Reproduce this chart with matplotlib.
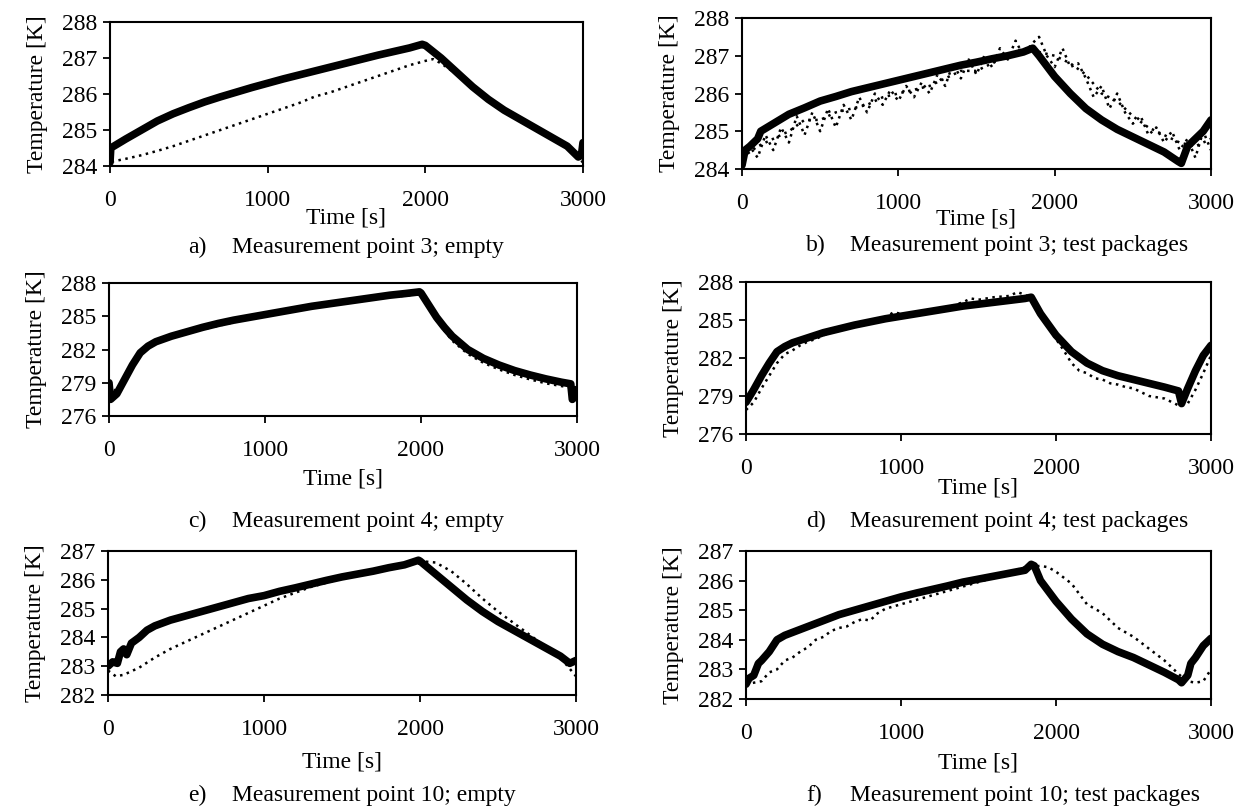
import matplotlib
matplotlib.use("Agg")
import matplotlib.pyplot as plt

plt.rcParams['font.family'] = ['Liberation Serif', 'DejaVu Serif']

W, H = 1249, 811

# ---------------- data ----------------
# Panel a: Measurement point 3; empty
a_solid_t = [0, 5, 100, 200, 300, 400, 500, 600, 700, 800, 900, 1000, 1100, 1200, 1300, 1400,
             1500, 1600, 1700, 1800, 1900, 1980, 2000, 2100, 2200, 2300, 2400, 2500, 2600, 2700,
             2800, 2900, 2970, 2990, 3000]
a_solid_y = [284.1, 284.5, 284.75, 285.0, 285.25, 285.45, 285.62, 285.78, 285.92, 286.05, 286.18,
             286.3, 286.42, 286.53, 286.64, 286.75, 286.86, 286.97, 287.08, 287.18, 287.28, 287.38,
             287.35, 287.0, 286.6, 286.2, 285.85, 285.55, 285.3, 285.05, 284.8, 284.55, 284.25,
             284.3, 284.65]
a_dot_t = [10, 100, 200, 300, 400, 500, 600, 700, 800, 900, 1000, 1100, 1200, 1300, 1400, 1500,
           1600, 1700, 1800, 1900, 2000, 2050, 2100, 2200, 2300, 2400, 2500, 2600, 2700, 2800,
           2900, 3000]
a_dot_y = [284.12, 284.2, 284.3, 284.42, 284.55, 284.7, 284.85, 285.0, 285.15, 285.3, 285.45,
           285.6, 285.75, 285.93, 286.05, 286.2, 286.35, 286.5, 286.65, 286.8, 286.92, 286.97,
           286.85, 286.55, 286.2, 285.85, 285.55, 285.3, 285.05, 284.8, 284.5, 284.1]

# Panel b: Measurement point 3; test packages
b_solid_t = [0, 20, 50, 100, 120, 200, 300, 400, 500, 600, 700, 800, 900, 1000, 1100, 1200,
             1300, 1400, 1500, 1600, 1700, 1800, 1860, 1900, 2000, 2100, 2200, 2300, 2400, 2500,
             2600, 2700, 2790, 2810, 2850, 2900, 2950, 3000]
b_solid_y = [284.1, 284.5, 284.6, 284.8, 285.0, 285.2, 285.45, 285.62, 285.8, 285.92, 286.05,
             286.15, 286.25, 286.35, 286.45, 286.55, 286.65, 286.75, 286.83, 286.92, 287.0, 287.1,
             287.2, 287.0, 286.45, 286.0, 285.6, 285.3, 285.05, 284.85, 284.65, 284.45, 284.2,
             284.15, 284.6, 284.8, 285.0, 285.3]
b_dot1_t = [0, 50, 100, 150, 200, 250, 300, 350, 400, 450, 500, 550, 600, 650, 700, 750, 800,
            850, 900, 950, 1000, 1050, 1100, 1150, 1200, 1250, 1300, 1350, 1400, 1450, 1500,
            1550, 1600, 1650, 1700, 1750, 1800, 1850, 1900, 1950, 2000, 2050, 2100, 2150, 2200,
            2250, 2300, 2350, 2400, 2450, 2500, 2550, 2600, 2650, 2700, 2750, 2800, 2850, 2900,
            2950, 3000]
b_dot1_y = [284.2, 284.6, 284.3, 284.9, 284.5, 285.1, 284.7, 285.4, 284.9, 285.5, 285.0, 285.6,
            285.1, 285.7, 285.3, 285.9, 285.5, 286.0, 285.7, 286.1, 285.8, 286.2, 285.9, 286.3,
            286.0, 286.5, 286.2, 286.8, 286.4, 286.9, 286.5, 287.0, 286.7, 287.2, 286.9, 287.4,
            287.0, 287.3, 287.5, 287.0, 286.7, 287.2, 286.7, 286.8, 286.4, 285.9, 286.2, 285.6,
            286.0, 285.5, 285.2, 285.4, 284.9, 285.1, 284.7, 285.0, 284.5, 284.8, 284.3, 285.0,
            284.5]
b_dot2_t = [0, 100, 200, 300, 400, 500, 600, 700, 800, 900, 1000, 1100, 1200, 1300, 1400, 1500,
            1600, 1700, 1800, 1900, 2000, 2100, 2200, 2300, 2400, 2500, 2600, 2700, 2800, 2900,
            3000]
b_dot2_y = [284.3, 284.6, 284.8, 285.0, 285.3, 285.3, 285.5, 285.6, 285.7, 285.9, 286.0, 286.1,
            286.2, 286.4, 286.6, 286.6, 286.8, 287.0, 287.2, 287.1, 287.0, 286.8, 286.5, 286.0,
            285.8, 285.4, 285.1, 284.9, 284.7, 284.6, 284.8]

# Panel c: Measurement point 4; empty
c_solid_t = [0, 10, 50, 100, 150, 200, 250, 300, 400, 500, 600, 700, 800, 900, 1000, 1100, 1200,
             1300, 1400, 1500, 1600, 1700, 1800, 1900, 1990, 2000, 2050, 2100, 2150, 2200, 2300,
             2400, 2500, 2600, 2700, 2800, 2900, 2960, 2970, 2990, 3000]
c_solid_y = [279.0, 277.5, 278.0, 279.3, 280.6, 281.7, 282.3, 282.7, 283.2, 283.6, 284.0, 284.35,
             284.65, 284.9, 285.15, 285.4, 285.65, 285.9, 286.1, 286.3, 286.5, 286.7, 286.9,
             287.05, 287.2, 287.1, 286.0, 284.9, 284.0, 283.2, 282.0, 281.2, 280.6, 280.1, 279.7,
             279.35, 279.05, 278.9, 277.5, 277.8, 278.4]
c_dot_t = [0, 100, 200, 300, 500, 1000, 1500, 2000, 2050, 2100, 2200, 2300, 2400, 2500, 2600,
           2700, 2800, 2900, 3000]
c_dot_y = [277.8, 279.2, 281.6, 282.6, 283.5, 285.1, 286.3, 287.0, 285.8, 284.6, 282.8, 281.6,
           280.8, 280.2, 279.7, 279.3, 278.95, 278.7, 278.5]

# Panel d: Measurement point 4; test packages
d_solid_t = [0, 50, 100, 150, 200, 250, 300, 400, 500, 600, 700, 800, 900, 1000, 1100, 1200,
             1300, 1400, 1500, 1600, 1700, 1800, 1840, 1900, 2000, 2100, 2200, 2300, 2400, 2500,
             2600, 2700, 2790, 2810, 2850, 2900, 2950, 3000]
d_solid_y = [278.5, 279.5, 280.6, 281.6, 282.5, 282.9, 283.2, 283.6, 284.0, 284.3, 284.6, 284.85,
             285.1, 285.3, 285.5, 285.7, 285.9, 286.1, 286.25, 286.4, 286.55, 286.7, 286.8, 285.5,
             283.8, 282.5, 281.6, 281.0, 280.6, 280.3, 280.0, 279.7, 279.4, 278.4, 279.6, 281.0,
             282.2, 283.0]
d_dot_t = [0, 50, 100, 150, 200, 250, 300, 350, 400, 450, 500, 600, 700, 800, 900, 950, 1000,
           1100, 1200, 1300, 1400, 1450, 1500, 1600, 1700, 1750, 1800, 1850, 1900, 1950, 2000,
           2050, 2100, 2150, 2200, 2250, 2300, 2350, 2400, 2450, 2500, 2550, 2600, 2650, 2700,
           2750, 2800, 2850, 2900, 2950, 3000]
d_dot_y = [277.9, 278.5, 279.6, 280.6, 281.6, 282.3, 282.6, 283.0, 283.3, 283.5, 283.8, 284.2,
           284.5, 284.8, 285.2, 285.6, 285.5, 285.6, 285.8, 286.0, 286.4, 286.7, 286.6, 286.8,
           286.9, 287.2, 287.0, 286.6, 285.6, 284.5, 283.5, 282.6, 281.6, 281.0, 280.8, 280.4,
           280.3, 280.0, 279.9, 279.7, 279.6, 279.3, 279.0, 278.9, 278.8, 278.5, 278.2, 278.4,
           279.5, 280.8, 282.2]

# Panel e: Measurement point 10; empty
e_solid_t = [0, 30, 60, 80, 100, 120, 150, 200, 250, 300, 400, 500, 600, 700, 800, 900, 1000,
             1100, 1200, 1300, 1400, 1500, 1600, 1700, 1800, 1900, 1990, 2000, 2100, 2200, 2300,
             2400, 2500, 2600, 2700, 2800, 2900, 2960, 3000]
e_solid_y = [283.0, 283.15, 283.1, 283.5, 283.6, 283.4, 283.8, 284.0, 284.25, 284.4, 284.6,
             284.75, 284.9, 285.05, 285.2, 285.35, 285.45, 285.6, 285.72, 285.85, 285.98, 286.1,
             286.2, 286.3, 286.42, 286.52, 286.68, 286.65, 286.2, 285.75, 285.3, 284.9, 284.55,
             284.25, 283.95, 283.65, 283.35, 283.1, 283.2]
e_dot_t = [0, 50, 100, 200, 300, 400, 500, 600, 700, 800, 900, 1000, 1100, 1200, 1300, 1400,
           1500, 1600, 1700, 1800, 1900, 2000, 2100, 2200, 2300, 2400, 2500, 2600, 2700, 2800,
           2900, 3000]
e_dot_y = [282.85, 282.65, 282.7, 282.95, 283.3, 283.6, 283.85, 284.1, 284.35, 284.6, 284.85,
           285.1, 285.35, 285.55, 285.75, 285.9, 286.05, 286.15, 286.3, 286.45, 286.55, 286.65,
           286.6, 286.3, 285.85, 285.35, 284.9, 284.5, 284.1, 283.7, 283.3, 282.65]

# Panel f: Measurement point 10; test packages
f_solid_t = [0, 20, 50, 80, 100, 150, 200, 250, 300, 400, 500, 600, 700, 800, 900, 1000, 1100,
             1200, 1300, 1400, 1500, 1600, 1700, 1800, 1840, 1860, 1900, 2000, 2100, 2200, 2300,
             2400, 2500, 2600, 2700, 2790, 2810, 2850, 2870, 2900, 2950, 3000]
f_solid_y = [282.5, 282.7, 282.8, 283.2, 283.3, 283.6, 284.0, 284.15, 284.25, 284.45, 284.65,
             284.85, 285.0, 285.15, 285.3, 285.45, 285.58, 285.7, 285.82, 285.95, 286.05, 286.15,
             286.25, 286.35, 286.55, 286.5, 286.0, 285.3, 284.7, 284.2, 283.85, 283.6, 283.4,
             283.15, 282.9, 282.65, 282.55, 282.8, 283.2, 283.4, 283.8, 284.05]
f_dot_t = [0, 100, 150, 200, 250, 300, 350, 400, 450, 500, 550, 600, 650, 700, 750, 800, 850,
           900, 1000, 1100, 1200, 1300, 1400, 1500, 1600, 1700, 1800, 1900, 1950, 2000, 2100,
           2200, 2300, 2400, 2500, 2600, 2700, 2800, 2850, 2900, 2950, 3000]
f_dot_y = [282.5, 282.6, 282.9, 283.0, 283.3, 283.4, 283.6, 283.75, 284.0, 284.1, 284.3, 284.4,
           284.45, 284.6, 284.7, 284.65, 284.9, 285.05, 285.2, 285.35, 285.5, 285.65, 285.8,
           285.95, 286.1, 286.3, 286.45, 286.5, 286.45, 286.3, 285.9, 285.2, 284.9, 284.4, 284.1,
           283.7, 283.3, 282.8, 282.6, 282.55, 282.6, 283.0]

x_ticks = [0, 1000, 2000, 3000]
yticks_3 = [284, 285, 286, 287, 288]
yticks_4 = [276, 279, 282, 285, 288]
yticks_10 = [282, 283, 284, 285, 286, 287]

labels = ["a)", "b)", "c)", "d)", "e)", "f)"]
captions = ["Measurement point 3; empty",
            "Measurement point 3; test packages",
            "Measurement point 4; empty",
            "Measurement point 4; test packages",
            "Measurement point 10; empty",
            "Measurement point 10; test packages"]

# ---------------- layout (pixels: left, top, right, bottom) ----------------
boxes = [(110, 22, 583, 166), (742, 18, 1211, 169),
         (109, 283, 577, 416), (746, 282, 1211, 434),
         (108, 551, 576, 695), (746, 551, 1211, 699)]
xlabel_y = [218, 219, 479, 488, 762, 763]
caption_y = [247, 245, 521, 521, 795, 795]
label_x = [188, 806, 188, 806, 188, 806]
text_x = [232, 850, 232, 850, 232, 850]

series = [
    ([(a_solid_t, a_solid_y)], [(a_dot_t, a_dot_y)], yticks_3),
    ([(b_solid_t, b_solid_y)], [(b_dot1_t, b_dot1_y), (b_dot2_t, b_dot2_y)], yticks_3),
    ([(c_solid_t, c_solid_y)], [(c_dot_t, c_dot_y)], yticks_4),
    ([(d_solid_t, d_solid_y)], [(d_dot_t, d_dot_y)], yticks_4),
    ([(e_solid_t, e_solid_y)], [(e_dot_t, e_dot_y)], yticks_10),
    ([(f_solid_t, f_solid_y)], [(f_dot_t, f_dot_y)], yticks_10),
]

fig = plt.figure(figsize=(W / 100, H / 100), dpi=100)

for i, (box, (solids, dots, yt)) in enumerate(zip(boxes, series)):
    l, t, r, b = box
    ax = fig.add_axes([l / W, 1 - b / H, (r - l) / W, (b - t) / H])
    for (tt, yy) in dots:
        ax.plot(tt, yy, color='black', lw=1.8, linestyle=(0, (1, 1.8)), zorder=2)
    for (tt, yy) in solids:
        ax.plot(tt, yy, color='black', lw=5.5, solid_capstyle='round',
                solid_joinstyle='round', zorder=3)
    ax.set_xlim(0, 3000)
    ax.set_ylim(yt[0], yt[-1])
    ax.set_xticks(x_ticks)
    ax.set_yticks(yt)
    ax.tick_params(direction='out', length=5, width=1.3, labelsize=17, colors='black')
    ax.tick_params(axis='x', pad=12)
    ax.tick_params(axis='y', pad=4)
    for s in ax.spines.values():
        s.set_linewidth(1.5)
    ax.set_ylabel("Temperature [K]", fontsize=17, labelpad=10)
    cx = (l + r) / 2
    fig.text(cx / W, 1 - xlabel_y[i] / H, "Time [s]", ha='center', va='center', fontsize=17)
    fig.text(label_x[i] / W, 1 - caption_y[i] / H, labels[i], ha='left', va='center', fontsize=17)
    fig.text(text_x[i] / W, 1 - caption_y[i] / H, captions[i], ha='left', va='center', fontsize=17)

fig.savefig("out.png", dpi=100)
